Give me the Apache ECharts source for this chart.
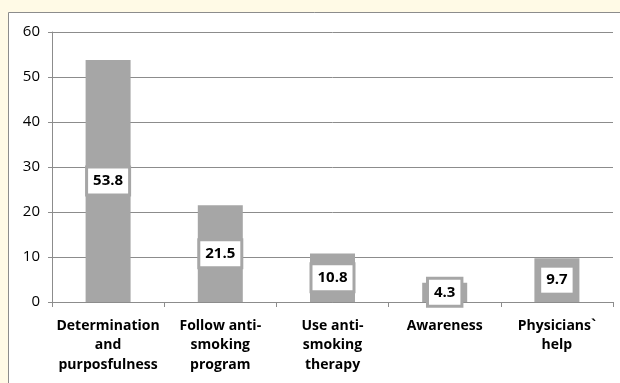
<!DOCTYPE html>
<html>
<head>
<meta charset="utf-8">
<script src="https://cdn.jsdelivr.net/npm/echarts@6/dist/echarts.min.js"></script>
<style>
    html, body { margin: 0; padding: 0; background: #FFFAE6; }
    #barChart { width: 620px; height: 383px; }
</style>
</head>
<body>
<div id="barChart"></div>
<script>
// data
var categories = ['Determination\nand\npurposfulness', 'Follow anti-\nsmoking\nprogram', 'Use anti-\nsmoking\ntherapy', 'Awareness', 'Physicians`\nhelp'];
var values = [53.8, 21.5, 10.8, 4.3, 9.7];
var yTicks = [0, 10, 20, 30, 40, 50, 60];

var barColor = '#A6A6A6';
var lineColor = '#8C8C8C';

var barChart = echarts.init(document.getElementById('barChart'));
barChart.setOption({
    animation: false,
    backgroundColor: '#FFFAE6',
    graphic: [{
        type: 'rect',
        left: 8, top: 12,
        shape: { width: 640, height: 400 },
        style: { fill: '#ffffff', stroke: lineColor, lineWidth: 1 },
        z: -10
    }],
    grid: { left: 52, right: 7, top: 32, bottom: 81 },
    xAxis: {
        type: 'category',
        data: categories,
        axisLine: { lineStyle: { color: lineColor } },
        axisTick: { show: true, length: 5, lineStyle: { color: lineColor } },
        axisLabel: {
            interval: 0,
            margin: 14,
            color: '#000',
            fontFamily: 'Open Sans',
            fontWeight: 'bold',
            fontSize: 14,
            lineHeight: 19.5
        }
    },
    yAxis: {
        type: 'value',
        min: yTicks[0],
        max: yTicks[yTicks.length - 1],
        interval: 10,
        axisLine: { show: true, lineStyle: { color: lineColor } },
        axisTick: { show: true, length: 4, lineStyle: { color: lineColor } },
        splitLine: { lineStyle: { color: lineColor } },
        axisLabel: { color: '#000', fontFamily: 'Open Sans', fontSize: 15, margin: 12 }
    },
    series: [{
        type: 'bar',
        data: values,
        barWidth: 45,
        itemStyle: { color: barColor },
        label: {
            show: true,
            position: 'inside',
            color: '#000',
            fontFamily: 'Open Sans',
            fontWeight: 'bold',
            fontSize: 15,
            backgroundColor: '#ffffff',
            borderColor: barColor,
            borderWidth: 3,
            padding: [6, 5, 4, 5]
        }
    }]
});
</script>
</body>
</html>
